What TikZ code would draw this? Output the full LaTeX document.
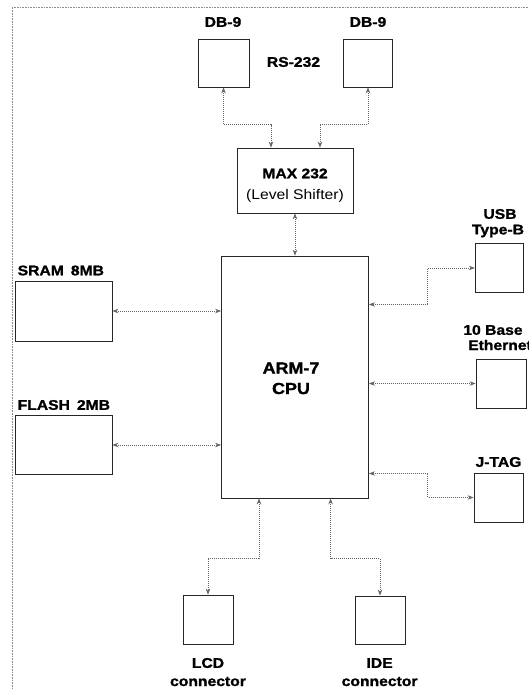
\documentclass[tikz,border=0pt]{standalone}
\usepackage{fontspec}
\setmainfont{Liberation Sans}[FakeStretch=1.12,BoldFeatures={FakeBold=1.3}]
\usetikzlibrary{arrows.meta}
\begin{document}
\begin{tikzpicture}[x=1pt,y=-1pt,
  box/.style={draw=black!85,line width=0.8pt,inner sep=0pt},
  lbl/.style={font=\bfseries\fontsize{14}{16}\selectfont,inner sep=0pt,align=center},
  rlbl/.style={font=\fontsize{14}{16}\selectfont,inner sep=0pt,align=center},
  big/.style={font=\bfseries\fontsize{16}{18}\selectfont,inner sep=0pt},
  link/.style={draw=black!60,line width=0.7pt,dash pattern=on 1pt off 1pt,
    {Stealth[length=6pt,width=4.5pt]}-{Stealth[length=6pt,width=4.5pt]}},
  frame/.style={draw=black!45,line width=0.8pt,dash pattern=on 1pt off 0.6pt}]
\useasboundingbox (0,0) rectangle (529,689);
% frame
\draw[frame] (12,689) -- (12,7.5) -- (529,7.5);
% RS-232 part
\node[box,minimum width=51,minimum height=48] (db1) at (223.5,63) {};
\node[box,minimum width=49,minimum height=48] (db2) at (368,63) {};
\node[lbl] (db1l) at (223,22) {DB-9};
\node[lbl] (db2l) at (368,22) {DB-9};
\node[lbl] (rs) at (293.5,62) {RS-232};
\node[box,minimum width=116,minimum height=65] (max) at (295,180.5) {};
\node[lbl] (maxt1) at (295,173.5) {MAX 232};
\node[rlbl] (maxt2) at (295,195.5) {(Level Shifter)};
% CPU
\node[box,minimum width=147,minimum height=242] (cpu) at (295,377) {};
\node[big] (cput1) at (291,368) {ARM-7};
\node[big] (cput2) at (291,388.5) {CPU};
% memories
\node[box,minimum width=97,minimum height=60] (sram) at (63.5,311) {};
\node[lbl,anchor=west] (sraml) at (17.5,270.5) {SRAM\hspace{7pt}8MB};
\node[box,minimum width=97,minimum height=59] (flash) at (63.5,445) {};
\node[lbl,anchor=west] (flashl) at (17.5,405) {FLASH\hspace{7pt}2MB};
% right side
\node[box,minimum width=48.5,minimum height=49] (usb) at (499.5,268) {};
\node[lbl] (usbl1) at (500,214) {USB};
\node[lbl] (usbl2) at (498,231) {Type-B};
\node[box,minimum width=50,minimum height=49] (eth) at (501,383.5) {};
\node[lbl] (ethl1) at (493,330) {10 Base};
\node[lbl,anchor=west] (ethl2) at (468,345) {Ethernet};
\node[box,minimum width=49,minimum height=49] (jtag) at (498.5,497.5) {};
\node[lbl] (jtagl) at (498.5,462) {J-TAG};
% bottom
\node[box,minimum width=50,minimum height=49] (lcd) at (208,619.5) {};
\node[lbl] (lcdl1) at (208,663) {LCD};
\node[lbl] (lcdl2) at (208,681.5) {connector};
\node[box,minimum width=50,minimum height=48] (ide) at (380,620) {};
\node[lbl] (idel1) at (379.6,663) {IDE};
\node[lbl] (idel2) at (379.6,681.5) {connector};
% bend points
\coordinate (b1) at (223.5,124.5);
\coordinate (b2) at (271,124.5);
\coordinate (b3) at (368,124.5);
\coordinate (b4) at (320,124.5);
\coordinate (u1) at (427.8,304.5);
\coordinate (u2) at (427.8,268);
\coordinate (u3) at (427.8,473.5);
\coordinate (u4) at (427.8,497.5);
\coordinate (l1) at (259,558.5);
\coordinate (l2) at (208,558.5);
\coordinate (i1) at (330.6,558.5);
\coordinate (i2) at (380,558.5);
% connectors
\draw[link] (db1.south) -- (b1) -- (b2) -- (b2 |- max.north);
\draw[link] (db2.south) -- (b3) -- (b4) -- (b4 |- max.north);
\draw[link] (max.south) -- (cpu.north);
\draw[link] (sram.east) -- (sram.east -| cpu.west);
\draw[link] (flash.east) -- (flash.east -| cpu.west);
\draw[link] (cpu.east |- u1) -- (u1) -- (u2) -- (usb.west);
\draw[link] (cpu.east |- eth.west) -- (eth.west);
\draw[link] (cpu.east |- u3) -- (u3) -- (u4) -- (jtag.west);
\draw[link] (cpu.south -| l1) -- (l1) -- (l2) -- (lcd.north);
\draw[link] (cpu.south -| i1) -- (i1) -- (i2) -- (ide.north);
\end{tikzpicture}
\end{document}
